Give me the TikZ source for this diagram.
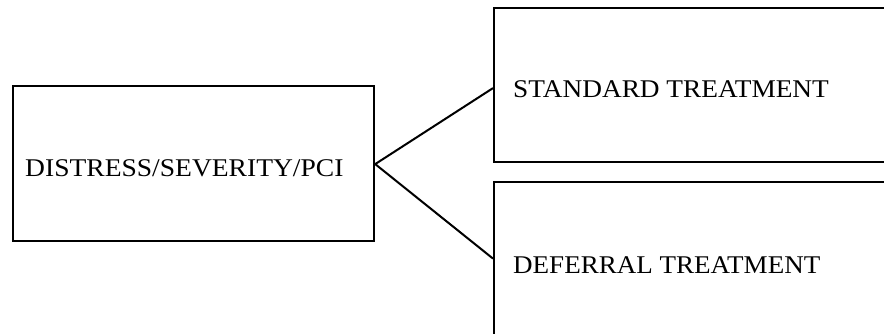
\documentclass[tikz,border=0pt]{standalone}
\usepackage{fontspec}
\setmainfont{Liberation Serif}
\begin{document}
\begin{tikzpicture}[x=1pt,y=-1pt,
  box/.style={draw=black,line width=2.2pt,rectangle,inner sep=0pt,anchor=north west},
  lbl/.style={anchor=base west,inner sep=0pt,font=\fontsize{25.5}{30}\selectfont},
  link/.style={draw=black,line width=2pt}]
\useasboundingbox (0,0) rectangle (884,334);
\clip (0,0) rectangle (884,334);
\node[box,minimum width=361pt,minimum height=155pt] (src) at (12,85) {};
\node[box,minimum width=420pt,minimum height=154pt] (std) at (493,7) {};
\node[box,minimum width=420pt,minimum height=175pt] (def) at (493,181) {};
\node[lbl] (srct) at (25,177) {\scalebox{1.08}[1]{DISTRESS/SEVERITY/PCI}};
\node[lbl] (stdt) at (513,98) {\scalebox{1.071}[1]{STANDARD TREATMENT}};
\node[lbl] (deft) at (513,273) {\scalebox{1.06}[1]{DEFERRAL TREATMENT}};
\coordinate (apex) at ([yshift=-0.5pt]src.east);
\coordinate (stdin) at ([yshift=-3pt]std.west);
\coordinate (defin) at ([yshift=11pt]def.west);
\draw[link] (stdin) -- (apex) -- (defin);
\end{tikzpicture}
\end{document}
